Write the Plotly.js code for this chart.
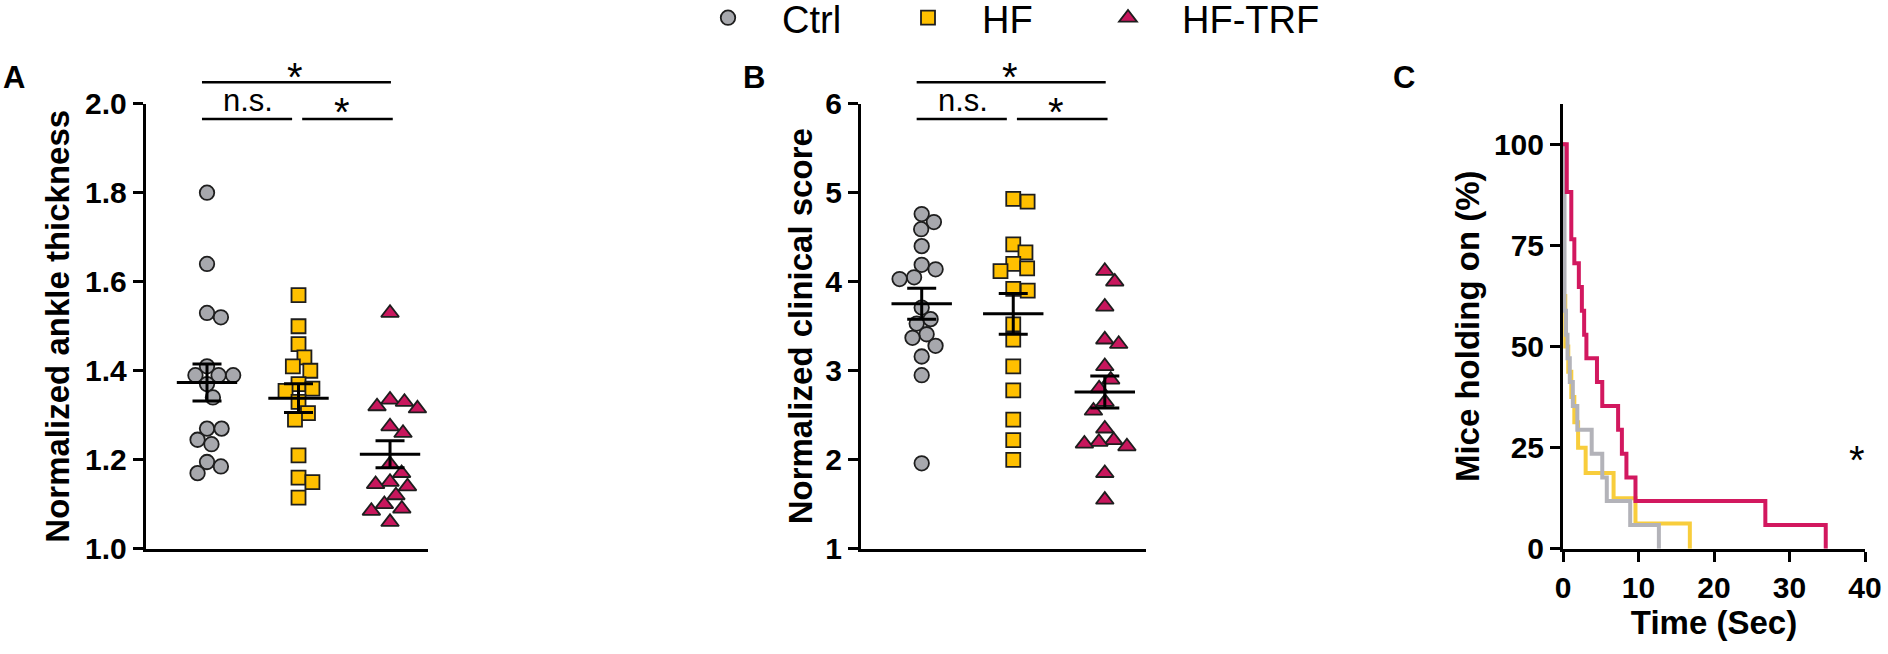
<!DOCTYPE html>
<html>
<head>
<meta charset="utf-8">
<script src="https://cdn.plot.ly/plotly-3.0.1.min.js"></script>
<style>html,body{margin:0;padding:0;background:#fff;}#chart{width:1888px;height:654px;}</style>
</head>
<body>
<div id="chart"></div>
<script>
// ---------- data ----------
const groups = ["Ctrl", "HF", "HF-TRF"];

// Panel A: normalized ankle thickness
const ankleCtrl = [1.80, 1.64, 1.52, 1.53, 1.41, 1.39, 1.39, 1.39, 1.37, 1.34, 1.27, 1.27, 1.245, 1.235, 1.195, 1.185, 1.17];
const ankleHF = [1.57, 1.50, 1.46, 1.43, 1.41, 1.40, 1.37, 1.36, 1.355, 1.33, 1.305, 1.29, 1.21, 1.16, 1.15, 1.115];
const ankleTRF = [1.53, 1.335, 1.33, 1.315, 1.32, 1.275, 1.26, 1.19, 1.17, 1.15, 1.145, 1.14, 1.12, 1.10, 1.09, 1.085, 1.06];

// Panel B: normalized clinical score
const scoreCtrl = [4.76, 4.67, 4.59, 4.40, 4.19, 4.14, 4.05, 4.03, 3.71, 3.58, 3.53, 3.41, 3.37, 3.28, 3.16, 2.95, 1.96];
const scoreHF = [4.93, 4.90, 4.42, 4.33, 4.20, 4.15, 4.12, 3.92, 3.90, 3.52, 3.35, 3.05, 2.78, 2.45, 2.22, 2.00];
const scoreTRF = [4.12, 4.00, 3.72, 3.35, 3.30, 3.05, 2.90, 2.80, 2.65, 2.55, 2.35, 2.22, 2.20, 2.18, 2.15, 1.85, 1.55];

// Panel C: mice holding on (%) vs time (sec), step curves
const holdCtrlT = [0, 0.2, 0.4, 0.6, 0.9, 1.3, 1.9, 3.8, 5.2, 5.8, 8.9, 12.7];
const holdCtrlP = [100, 58.8, 52.9, 47.1, 41.2, 35.3, 29.4, 23.5, 17.6, 11.8, 5.9, 0];
const holdHFT = [0, 0.1, 0.3, 0.7, 1.1, 1.5, 2.0, 3.0, 6.7, 9.6, 16.8];
const holdHFP = [100, 62.5, 50, 43.75, 37.5, 31.25, 25, 18.75, 12.5, 6.25, 0];
const holdTRFT = [0, 0.5, 1.1, 1.5, 2.1, 2.5, 2.8, 3.1, 4.5, 5.2, 7.3, 7.8, 8.4, 9.6, 26.8, 34.8];
const holdTRFP = [100, 88.2, 76.5, 70.6, 64.7, 58.8, 52.9, 47.1, 41.2, 35.3, 29.4, 23.5, 17.6, 11.8, 5.9, 0];

const yTicksA = [1.0, 1.2, 1.4, 1.6, 1.8, 2.0];
const yTicksB = [1, 2, 3, 4, 5, 6];
const yTicksC = [0, 25, 50, 75, 100];
const xTicksC = [0, 10, 20, 30, 40];

// ---------- layout geometry (pixels of the 1888x654 canvas) ----------
const W = 1888, H = 654;
const yTopPx = 103.7, yBotPx = 548.8;
const yDom = [1 - yBotPx / H, 1 - yTopPx / H];
const xDomA = [145.7 / W, 428 / W], xRangeA = [-0.67, 2.415];
const xDomB = [861 / W, 1146 / W], xRangeB = [-0.663, 2.45];
const xDomC = [1563 / W, 1865 / W], xRangeC = [0, 40];
const yRangeA = [1.0, 2.0], yRangeB = [1, 6], yRangeC = [0, 110];

const colCtrl = '#a7a8ad', colHF = '#ffc000', colTRF = '#c8175d';
const lineCtrl = '#b3b3b9', lineHF = '#f8cd3c', lineTRF = '#d2185f';
const edge = '#1e1e1e';
const FONT = 'Liberation Sans, Arial, Helvetica, sans-serif';

function pxPerUnit(dom, range, total) { return (dom[1] - dom[0]) * total / (range[1] - range[0]); }

// simple beeswarm so points do not overlap (offsets in category units)
function swarm(vals, yPx, xPx, d) {
  const idx = vals.map((v, i) => i).sort((a, b) => vals[b] - vals[a]);
  const placed = [], out = new Array(vals.length);
  for (const i of idx) {
    const y = vals[i] * yPx;
    const cands = [0];
    for (const p of placed) {
      const dy = Math.abs(p.y - y);
      if (dy < d) { const dx = Math.sqrt(d * d - dy * dy); cands.push(p.x + dx, p.x - dx); }
    }
    cands.sort((a, b) => Math.abs(a) - Math.abs(b));
    let best = 0;
    for (const c of cands) {
      if (placed.every(p => (p.x - c) ** 2 + (p.y - y) ** 2 >= d * d - 1e-6)) { best = c; break; }
    }
    placed.push({ x: best, y: y });
    out[i] = best / xPx;
  }
  return out;
}
function mean(a) { return a.reduce((s, v) => s + v, 0) / a.length; }
function sem(a) { const m = mean(a); const v = a.reduce((s, x) => s + (x - m) ** 2, 0) / (a.length - 1); return Math.sqrt(v / a.length); }

const traces = [];
const markerSpec = [
  { symbol: 'circle', color: colCtrl, size: 14.5 },
  { symbol: 'square', color: colHF, size: 14 },
  { symbol: 'triangle-up', color: colTRF, size: 15.5 }
];
const legendIds = ['legend', 'legend2', 'legend3'];

function dotPanel(sets, xa, ya, xDom, xRange, yRange, showLeg) {
  const xPx = pxPerUnit(xDom, xRange, W);
  const yPx = (yDom[1] - yDom[0]) * H / (yRange[1] - yRange[0]);
  sets.forEach((vals, g) => {
    const off = swarm(vals, yPx, xPx, 14.6);
    traces.push({
      type: 'scatter', mode: 'markers', xaxis: xa, yaxis: ya,
      x: vals.map((v, i) => g + off[i]), y: vals,
      name: groups[g], showlegend: showLeg, legend: legendIds[g], cliponaxis: false,
      marker: { symbol: markerSpec[g].symbol, color: markerSpec[g].color, size: markerSpec[g].size, line: { color: edge, width: 1.8 } },
      hoverinfo: 'y'
    });
  });
  const mx = [], my = [];
  sets.forEach((vals, g) => { const m = mean(vals); mx.push(g - 0.33, g + 0.33, null); my.push(m, m, null); });
  traces.push({ type: 'scatter', mode: 'lines', xaxis: xa, yaxis: ya, x: mx, y: my, showlegend: false,
    line: { color: '#000', width: 3 }, hoverinfo: 'skip' });
  traces.push({ type: 'scatter', mode: 'markers', xaxis: xa, yaxis: ya,
    x: sets.map((v, g) => g), y: sets.map(v => mean(v)), showlegend: false,
    marker: { size: 1, color: 'rgba(0,0,0,0)' },
    error_y: { type: 'data', array: sets.map(v => sem(v)), visible: true, color: '#000', thickness: 3, width: 14.5 },
    hoverinfo: 'skip' });
}

dotPanel([ankleCtrl, ankleHF, ankleTRF], 'x', 'y', xDomA, xRangeA, yRangeA, true);
dotPanel([scoreCtrl, scoreHF, scoreTRF], 'x2', 'y2', xDomB, xRangeB, yRangeB, false);

[[holdHFT, holdHFP, lineHF], [holdCtrlT, holdCtrlP, lineCtrl], [holdTRFT, holdTRFP, lineTRF]].forEach(s => {
  traces.push({ type: 'scatter', mode: 'lines', xaxis: 'x3', yaxis: 'y3', x: s[0], y: s[1],
    line: { shape: 'hv', color: s[2], width: 4 }, showlegend: false, cliponaxis: false, hoverinfo: 'x+y' });
});

const tickFont = { family: FONT, size: 30, color: '#000', weight: 'bold' };
const titleFont = { family: FONT, size: 33, color: '#000', weight: 'bold' };

function yAxis(dom, range, vals, fmt, title, anchor, standoff) {
  return {
    domain: dom, range: range, anchor: anchor, tickvals: vals, tickformat: fmt,
    showline: true, linecolor: '#000', linewidth: 3, ticks: 'outside', ticklen: 10, tickwidth: 3, tickcolor: '#000',
    showgrid: false, zeroline: false, tickfont: tickFont, fixedrange: true, automargin: false,
    title: { text: title, font: titleFont, standoff: standoff }
  };
}
function xCat(dom, range, anchor) {
  return { domain: dom, range: range, anchor: anchor, showline: true, linecolor: '#000', linewidth: 3,
    ticks: '', showticklabels: false, showgrid: false, zeroline: false, fixedrange: true };
}

function toPaperX(dom, range, v) { return dom[0] + (v - range[0]) / (range[1] - range[0]) * (dom[1] - dom[0]); }
const pyTop = 1 - 82.3 / H, pyLow = 1 - 119 / H;
const shapes = [], annotations = [];
const starFont = { family: FONT, size: 40, color: '#000' };
function note(x, y, text, font) {
  annotations.push({ xref: 'paper', yref: 'paper', x: x, y: y, xanchor: 'center', yanchor: 'middle',
    text: text, showarrow: false, font: font });
}
function sigBars(dom, range) {
  const segs = [[-0.055, 2.01, pyTop], [-0.055, 0.93, pyLow], [1.04, 2.03, pyLow]];
  segs.forEach(s => shapes.push({ type: 'line', xref: 'paper', yref: 'paper',
    x0: toPaperX(dom, range, s[0]), x1: toPaperX(dom, range, s[1]), y0: s[2], y1: s[2],
    line: { color: '#000', width: 2.6 } }));
  note(toPaperX(dom, range, 0.96), 1 - 77 / H, '*', starFont);
  note(toPaperX(dom, range, 0.45), 1 - 100 / H, 'n.s.', { family: FONT, size: 31, color: '#000' });
  note(toPaperX(dom, range, 1.47), 1 - 112 / H, '*', starFont);
}
sigBars(xDomA, xRangeA);
sigBars(xDomB, xRangeB);

const letterFont = { family: FONT, size: 31, color: '#000', weight: 'bold' };
[['A', 13.8], ['B', 753.5], ['C', 1404]].forEach(l => note(l[1] / W, 1 - 78 / H, l[0], letterFont));
annotations.push({ xref: 'x3', yref: 'y3', x: 38.9, y: 22, xanchor: 'center', yanchor: 'middle',
  text: '*', showarrow: false, font: starFont });

// one legend per group so each entry sits exactly where the reference puts it
const legSymbolX = [728, 928, 1128];
function legendBox(i) {
  return { orientation: 'h', x: (legSymbolX[i] - 54) / W, xanchor: 'left', y: 1 - 18 / H, yanchor: 'middle',
    font: { family: FONT, size: 38, color: '#000' }, itemwidth: 98,
    bgcolor: 'rgba(0,0,0,0)', borderwidth: 0 };
}

const layout = {
  width: W, height: H, margin: { l: 0, r: 0, t: 0, b: 0, pad: 0, autoexpand: false },
  paper_bgcolor: '#fff', plot_bgcolor: '#fff',
  font: { family: FONT, color: '#000' },
  showlegend: true,
  legend: legendBox(0), legend2: legendBox(1), legend3: legendBox(2),
  xaxis: xCat(xDomA, xRangeA, 'y'),
  yaxis: yAxis(yDom, yRangeA, yTicksA, '.1f', 'Normalized ankle thickness', 'x', 6),
  xaxis2: xCat(xDomB, xRangeB, 'y2'),
  yaxis2: yAxis(yDom, yRangeB, yTicksB, 'd', 'Normalized clinical score', 'x2', 3),
  xaxis3: {
    domain: xDomC, range: xRangeC, anchor: 'y3', tickvals: xTicksC, showline: true, linecolor: '#000', linewidth: 3,
    ticks: 'outside', ticklen: 10, tickwidth: 3, tickcolor: '#000', showgrid: false, zeroline: false,
    tickfont: tickFont, fixedrange: true, automargin: false, title: { text: 'Time (Sec)', font: titleFont, standoff: 0 }
  },
  yaxis3: yAxis(yDom, yRangeC, yTicksC, 'd', 'Mice holding on (%)', 'x3', 5),
  shapes: shapes, annotations: annotations
};

Plotly.newPlot('chart', traces, layout, { staticPlot: true, displayModeBar: false });
</script>
</body>
</html>
